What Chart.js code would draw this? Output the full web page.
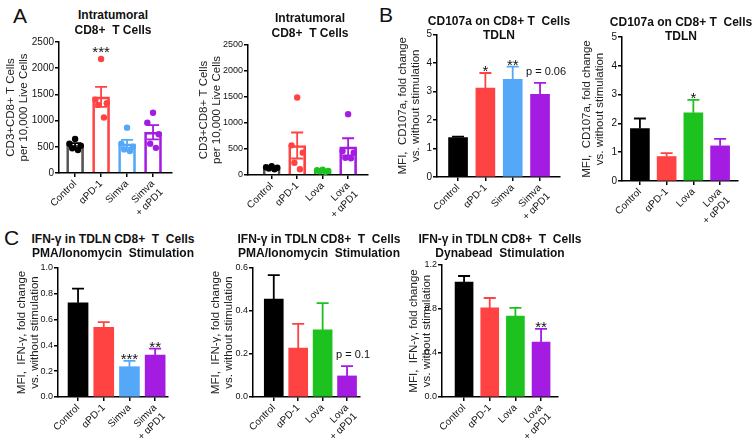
<!DOCTYPE html>
<html><head><meta charset="utf-8">
<script src="https://cdn.jsdelivr.net/npm/chart.js@4.4.0/dist/chart.umd.min.js"></script>
<style>
body{margin:0;background:#fff;width:755px;height:441px;overflow:hidden;position:relative;font-family:"Liberation Sans",Arial,sans-serif}
canvas{position:absolute}
.t{position:absolute;font-weight:bold;font-size:12px;white-space:pre;transform:translate(-50%,-50%);line-height:1;color:#111}
.L{position:absolute;font-size:21px;line-height:1;color:#111}
</style></head><body>
<div class="L" style="left:13px;top:5px">A</div>
<div class="L" style="left:379px;top:4px">B</div>
<div class="L" style="left:4px;top:227px">C</div>
<script>
// ---------- data ----------
const CATS_SIMVA = ['Control', 'αPD-1', 'Simva', ['Simva', '+ αPD1']];
const CATS_LOVA  = ['Control', 'αPD-1', 'Lova', ['Lova', '+ αPD1']];

const Y_TICKS_A  = [0, 500, 1000, 1500, 2000, 2500];
const Y_TICKS_B  = [0, 1, 2, 3, 4, 5];
const Y_TICKS_C1 = [0, 0.2, 0.4, 0.6, 0.8, 1.0];
const Y_TICKS_C2 = [0, 0.2, 0.4, 0.6];
const Y_TICKS_C3 = [0, 0.4, 0.8, 1.2];

// A (left): Simva, individual mice
const A1_DOTS = [[650, 560, 520, 470, 440], [2175, 1400, 1330, 1300, 1060], [865, 560, 500, 450, 420], [1150, 960, 740, 560, 480]];
const A1_MEAN = [528, 1453, 559, 778];
const A1_SEM  = [42, 190, 75, 135];
const A1_SIG  = ['', '***', '', ''];
// A (right): Lova
const A2_DOTS = [[170, 150, 140, 125, 110], [1490, 570, 430, 235, 110], [100, 90, 80, 70, 60], [1170, 460, 430, 330, 320]];
const A2_MEAN = [139, 567, 80, 542];
const A2_SEM  = [12, 250, 8, 165];
const A2_SIG  = ['', '', '', ''];
// B
const B1_MEAN = [1.38, 3.12, 3.43, 2.90];
const B1_SEM  = [0.04, 0.53, 0.44, 0.40];
const B1_SIG  = ['', '*', '**', 'p = 0.06'];
const B2_MEAN = [1.82, 0.85, 2.37, 1.22];
const B2_SEM  = [0.35, 0.12, 0.45, 0.24];
const B2_SIG  = ['', '', '*', ''];
// C
const C1_MEAN = [0.73, 0.54, 0.235, 0.325];
const C1_SEM  = [0.11, 0.04, 0.045, 0.05];
const C1_SIG  = ['', '', '***', '**'];
const C2_MEAN = [0.456, 0.228, 0.312, 0.098];
const C2_SEM  = [0.111, 0.112, 0.125, 0.046];
const C2_SIG  = ['', '', '', 'p = 0.1'];
const C3_MEAN = [1.045, 0.81, 0.735, 0.50];
const C3_SEM  = [0.055, 0.09, 0.075, 0.12];
const C3_SIG  = ['', '', '', '**'];

const TITLE_A = ['Intratumoral', 'CD8+  T Cells'];
const TITLE_B = ['CD107a on CD8+ T  Cells', 'TDLN'];
const TITLE_C1 = ['IFN-γ in TDLN CD8+  T  Cells', 'PMA/Ionomycin  Stimulation'];
const TITLE_C3 = ['IFN-γ in TDLN CD8+  T  Cells', 'Dynabead  Stimulation'];
const YT_A = ['CD3+CD8+ T Cells', 'per 10,000 Live Cells'];
const YT_B = ['MFI,  CD107a, fold change', 'vs. without stimulation'];
const YT_C = ['MFI,  IFN-γ, fold change', 'vs. without stimulation'];

// ---------- style ----------
const FONT = '"Liberation Sans", Arial, sans-serif';
const RED = '#ff4343', BLUE = '#55a8f7', PURPLE = '#a41be2', GREEN = '#1ec21e', BLACK = '#000000';
const COL_SIMVA = [BLACK, RED, BLUE, PURPLE];
const COL_LOVA = [BLACK, RED, GREEN, PURPLE];
const JITTER = [0, -0.22, 0.22, -0.11, 0.11];

function addTitle(lines, cx, cy1, gap) {
  lines.forEach((s, k) => {
    const d = document.createElement('div');
    d.className = 't'; d.textContent = s;
    d.style.left = cx + 'px'; d.style.top = (cy1 + k * gap) + 'px';
    document.body.appendChild(d);
  });
}

function errPlugin(p) {
  return {
    id: 'errbars',
    afterDatasetsDraw(chart) {
      const { ctx, scales: { x, y } } = chart;
      ctx.save();
      p.mean.forEach((m, i) => {
        const px = x.getPixelForValue(i);
        const top = y.getPixelForValue(m + p.sem[i]);
        const bot = p.hollow ? y.getPixelForValue(m - p.sem[i]) : y.getPixelForValue(m);
        ctx.strokeStyle = p.colors[i];
        ctx.lineWidth = 1.8;
        ctx.beginPath();
        ctx.moveTo(px, bot); ctx.lineTo(px, top);
        ctx.moveTo(px - 6, top); ctx.lineTo(px + 6, top);
        if (p.hollow) { ctx.moveTo(px - 6, bot); ctx.lineTo(px + 6, bot); }
        ctx.stroke();
        const s = p.sig[i];
        if (s) {
          let anchor = top;
          if (p.dots) anchor = Math.min(top, y.getPixelForValue(Math.max(...p.dots[i])) - 6);
          ctx.fillStyle = '#111';
          ctx.textAlign = 'center';
          ctx.textBaseline = 'alphabetic';
          if (s.startsWith('p')) {
            ctx.font = '11px ' + FONT;
            ctx.fillText(s, px + 6, anchor - 8);
          } else {
            ctx.font = '15px ' + FONT;
            ctx.fillText(s, px, anchor + 3.5);
          }
        }
      });
      ctx.restore();
    }
  };
}

function panel(p) {
  const [x0, y0, w, h] = p.box;
  const [pl, pt, pr, pb] = p.plot;
  const cv = document.createElement('canvas');
  cv.width = w; cv.height = h;
  Object.assign(cv.style, { left: x0 + 'px', top: y0 + 'px', width: w + 'px', height: h + 'px' });
  document.body.appendChild(cv);
  const datasets = [];
  if (p.dots) {
    const pts = [], cols = [];
    p.dots.forEach((arr, i) => arr.forEach((v, k) => { pts.push({ x: i + JITTER[k], y: v }); cols.push(p.colors[i]); }));
    datasets.push({ type: 'scatter', data: pts, pointRadius: 3.2, pointBackgroundColor: cols, pointBorderWidth: 0, order: 1 });
  }
  datasets.push({
    type: 'bar', data: p.mean.map((v, i) => ({ x: i, y: v })),
    backgroundColor: p.hollow ? 'rgba(255,255,255,0)' : p.colors,
    borderColor: p.hollow ? p.outline : p.colors,
    borderWidth: p.hollow ? 2 : 0, barThickness: p.barW, order: 2
  });
  new Chart(cv, {
    type: 'bar',
    data: { datasets },
    options: {
      responsive: false, animation: false, devicePixelRatio: 1,
      layout: { padding: { left: 0, top: pt - y0, right: x0 + w - pr, bottom: 0 } },
      plugins: { legend: { display: false }, tooltip: { enabled: false } },
      scales: {
        x: {
          type: 'linear', min: p.xr[0], max: p.xr[1], offset: false,
          afterBuildTicks: s => { s.ticks = p.cats.map((c, i) => ({ value: i })); },
          afterFit: s => { s.height = y0 + h - pb; },
          ticks: { autoSkip: false, minRotation: 45, maxRotation: 45, padding: 1, color: '#111',
                   font: { size: 10, family: FONT }, callback: v => p.cats[v] },
          grid: { drawOnChartArea: false, drawTicks: true, tickLength: 4, color: '#000', lineWidth: 1.5, offset: false },
          border: { display: true, color: '#000', width: 1.5 }
        },
        y: {
          min: 0, max: p.yticks[p.yticks.length - 1],
          afterBuildTicks: s => { s.ticks = p.yticks.map(v => ({ value: v })); },
          afterFit: s => { s.width = pl - x0; },
          ticks: { padding: 1, color: '#111', font: { size: p.yFont, family: FONT }, callback: v => p.fmt(v) },
          grid: { drawOnChartArea: false, drawTicks: true, tickLength: 4, color: '#000', lineWidth: 1.5 },
          border: { display: true, color: '#000', width: 1.5 },
          title: { display: true, text: p.ytitle, color: '#222', padding: 0,
                   font: { size: 11.5, family: FONT, lineHeight: 1.15 } }
        }
      }
    },
    plugins: [errPlugin(p)]
  });
}

const fInt = v => String(v);
const f1 = v => v.toFixed(1);

panel({ box: [4, 30, 181, 200], plot: [59, 42, 172, 173], xr: [-0.62, 3.73], cats: CATS_SIMVA, yFont: 10,
        yticks: Y_TICKS_A, fmt: fInt, ytitle: YT_A, mean: A1_MEAN, sem: A1_SEM, sig: A1_SIG, dots: A1_DOTS,
        hollow: true, colors: COL_SIMVA, outline: ['#555', RED, BLUE, PURPLE], barW: 17 });
panel({ box: [197, 30, 183, 200], plot: [248, 45, 368, 175], xr: [-0.93, 3.78], cats: CATS_LOVA, yFont: 9,
        yticks: Y_TICKS_A, fmt: fInt, ytitle: YT_A, mean: A2_MEAN, sem: A2_SEM, sig: A2_SIG, dots: A2_DOTS,
        hollow: true, colors: COL_LOVA, outline: ['#555', RED, GREEN, PURPLE], barW: 17 });
panel({ box: [396, 25, 172, 205], plot: [437, 34.5, 560, 177], xr: [-0.77, 3.73], cats: CATS_SIMVA, yFont: 10,
        yticks: Y_TICKS_B, fmt: fInt, ytitle: YT_B, mean: B1_MEAN, sem: B1_SEM, sig: B1_SIG,
        hollow: false, colors: COL_SIMVA, barW: 19 });
panel({ box: [580, 25, 172, 205], plot: [622, 37, 738, 181], xr: [-0.67, 3.67], cats: CATS_LOVA, yFont: 10,
        yticks: Y_TICKS_B, fmt: fInt, ytitle: YT_B, mean: B2_MEAN, sem: B2_SEM, sig: B2_SIG,
        hollow: false, colors: COL_LOVA, barW: 19 });
panel({ box: [15, 258, 177, 183], plot: [58, 268, 168, 397], xr: [-0.78, 3.5], cats: CATS_SIMVA, yFont: 9,
        yticks: Y_TICKS_C1, fmt: f1, ytitle: YT_C, mean: C1_MEAN, sem: C1_SEM, sig: C1_SIG,
        hollow: false, colors: COL_SIMVA, barW: 20 });
panel({ box: [209, 258, 174, 183], plot: [253, 268, 360, 397], xr: [-0.85, 3.53], cats: CATS_LOVA, yFont: 9,
        yticks: Y_TICKS_C2, fmt: f1, ytitle: YT_C, mean: C2_MEAN, sem: C2_SEM, sig: C2_SIG,
        hollow: false, colors: COL_LOVA, barW: 19 });
panel({ box: [407, 255, 174, 186], plot: [442, 265, 558, 397], xr: [-0.86, 3.66], cats: CATS_LOVA, yFont: 9,
        yticks: Y_TICKS_C3, fmt: f1, ytitle: YT_C, mean: C3_MEAN, sem: C3_SEM, sig: C3_SIG,
        hollow: false, colors: COL_LOVA, barW: 18 });

addTitle(TITLE_A, 113, 14.5, 15);
addTitle(TITLE_A, 310, 17.5, 15);
addTitle(TITLE_B, 499, 20.5, 14.5);
addTitle(TITLE_B, 681, 21.5, 14.5);
addTitle(TITLE_C1, 113, 239, 14);
addTitle(TITLE_C1, 319, 239, 14);
addTitle(TITLE_C3, 500, 239, 14);
</script>
</body></html>
